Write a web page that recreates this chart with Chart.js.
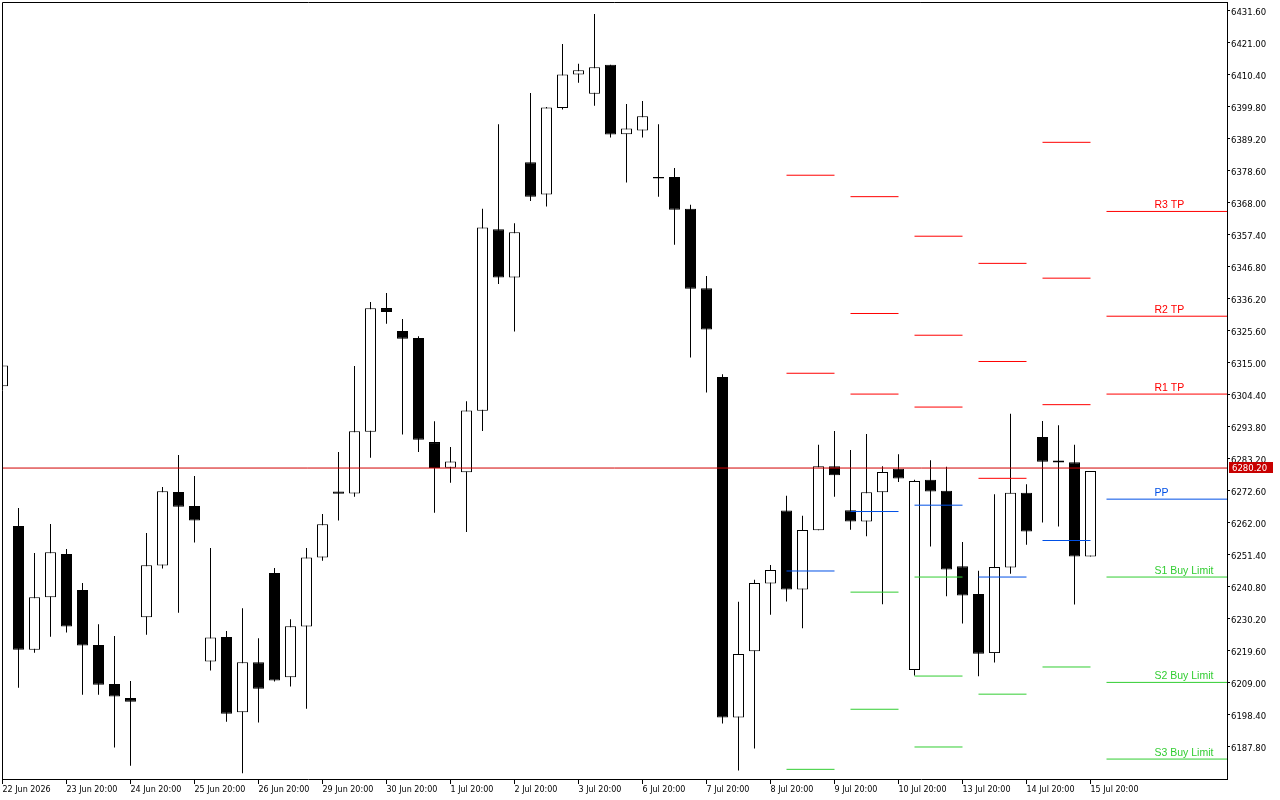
<!DOCTYPE html>
<html>
<head>
<meta charset="utf-8">
<title>US500 H6</title>
<script src="https://cdn.jsdelivr.net/npm/chart.js@4.4.1/dist/chart.umd.min.js"></script>
<style>
  html, body { margin: 0; padding: 0; background: #fff; }
  canvas { display: block; }
</style>
</head>
<body>
<canvas id="chart" width="1280" height="800"></canvas>
<script>
// candles, oldest first (one every 6 hours)
const opens  = [6307.3, 6261.0, 6220.0, 6237.4, 6251.7, 6239.8, 6221.6, 6208.7, 6204.0, 6230.8,
                6247.9, 6272.3, 6267.6, 6216.1, 6224.2, 6199.3, 6215.9, 6245.4, 6210.9, 6227.7,
                6250.6, 6272.4, 6271.8, 6292.2, 6333.2, 6325.6, 6323.3, 6288.8, 6280.3, 6278.8,
                6299.2, 6359.3, 6343.3, 6381.5, 6370.8, 6399.5, 6410.6, 6404.2, 6413.8, 6390.8,
                6392.0, 6376.6, 6376.6, 6366.1, 6339.8, 6310.4, 6197.6, 6219.5, 6242.0, 6266.1,
                6240.0, 6259.6, 6280.8, 6266.2, 6262.5, 6272.2, 6280.0, 6213.3, 6276.3, 6272.7,
                6247.7, 6238.5, 6218.9, 6247.3, 6272.0, 6290.5, 6282.7, 6282.1, 6250.9];
const highs  = [6314.2, 6267.0, 6252.1, 6261.7, 6253.4, 6242.1, 6228.5, 6224.6, 6209.7, 6258.7,
                6273.9, 6284.5, 6277.6, 6253.7, 6226.2, 6233.8, 6223.8, 6247.1, 6230.1, 6253.7,
                6265.0, 6285.5, 6314.0, 6335.2, 6338.2, 6329.6, 6323.9, 6295.7, 6287.2, 6302.3,
                6366.1, 6394.1, 6361.3, 6404.4, 6399.8, 6420.7, 6414.1, 6430.6, 6413.8, 6400.8,
                6401.8, 6394.1, 6379.6, 6367.4, 6343.8, 6311.3, 6235.9, 6243.2, 6248.1, 6271.0,
                6264.4, 6287.9, 6292.5, 6286.2, 6291.5, 6280.8, 6284.8, 6276.3, 6282.8, 6280.6,
                6255.7, 6246.2, 6271.5, 6298.2, 6274.8, 6295.8, 6294.4, 6287.9, 6279.2];
const lows   = [6307.3, 6207.4, 6219.0, 6224.3, 6225.7, 6205.1, 6205.1, 6187.6, 6181.6, 6225.0,
                6246.9, 6232.3, 6255.5, 6213.1, 6196.2, 6179.1, 6195.9, 6209.5, 6207.8, 6200.5,
                6249.5, 6262.8, 6270.7, 6283.6, 6328.0, 6291.3, 6285.5, 6265.4, 6275.3, 6259.0,
                6292.5, 6341.2, 6325.4, 6368.7, 6366.8, 6399.0, 6407.8, 6400.2, 6389.7, 6374.8,
                6389.7, 6370.1, 6354.2, 6316.8, 6305.2, 6195.6, 6180.0, 6187.3, 6231.6, 6236.0,
                6227.1, 6259.6, 6270.7, 6259.8, 6257.6, 6235.1, 6275.6, 6211.5, 6254.2, 6237.7,
                6228.7, 6211.2, 6215.8, 6245.2, 6254.8, 6262.2, 6260.8, 6235.0, 6250.9];
const closes = [6314.2, 6220.0, 6237.4, 6252.3, 6227.7, 6221.4, 6208.4, 6204.5, 6202.8, 6248.0,
                6272.5, 6267.4, 6262.8, 6224.1, 6198.8, 6215.9, 6207.1, 6209.8, 6227.8, 6250.6,
                6261.6, 6271.7, 6292.4, 6333.1, 6331.9, 6323.0, 6289.6, 6280.2, 6282.4, 6299.3,
                6359.9, 6343.3, 6358.3, 6370.1, 6399.6, 6410.6, 6412.0, 6413.0, 6390.7, 6392.7,
                6396.7, 6376.1, 6365.8, 6339.6, 6326.1, 6197.6, 6218.6, 6242.1, 6246.4, 6240.0,
                6259.7, 6280.8, 6277.8, 6262.5, 6272.2, 6278.9, 6276.7, 6275.9, 6272.4, 6246.6,
                6238.0, 6218.7, 6247.4, 6272.0, 6259.2, 6282.3, 6282.0, 6250.9, 6279.2];

// one label every 4 candles
const xLabels = ['22 Jun 2026', '23 Jun 20:00', '24 Jun 20:00', '25 Jun 20:00', '26 Jun 20:00',
                 '29 Jun 20:00', '30 Jun 20:00', '1 Jul 20:00', '2 Jul 20:00', '3 Jul 20:00',
                 '6 Jul 20:00', '7 Jul 20:00', '8 Jul 20:00', '9 Jul 20:00', '10 Jul 20:00',
                 '13 Jul 20:00', '14 Jul 20:00', '15 Jul 20:00'];
const yTicks = [6187.8, 6198.4, 6209.0, 6219.6, 6230.2, 6240.8, 6251.4, 6262.0, 6272.6, 6283.2,
                6293.8, 6304.4, 6315.0, 6325.6, 6336.2, 6346.8, 6357.4, 6368.0, 6378.6, 6389.2,
                6399.8, 6410.4, 6421.0, 6431.6];

// daily pivot levels, one value per day (null = off the chart)
const segStart = [49, 53, 57, 61, 65, 69];
const segEnd   = [52, 56, 60, 64, 68, 77];
const r3 = [null,   6370.1, 6357.0, 6348.0, 6388.1, 6365.2];
const r2 = [6377.2, 6331.4, 6324.2, 6315.5, 6343.1, 6330.5];
const r1 = [6311.6, 6304.7, 6300.4, 6276.8, 6301.2, 6304.7];
const pp = [6246.1, 6265.8, 6267.9, 6244.1, 6256.2, 6269.9];
const s1 = [6180.4, 6239.1, 6244.1, 6205.3, 6214.3, 6244.1];
const s2 = [null,   6200.3, 6211.3, null,   null,   6209.2];
const s3 = [null,   null,   6187.8, null,   null,   6183.8];

const lastPrice = 6280.2;

const RED = '#ff0000', BLUE = '#0050e6', GREEN = '#32cd32';
const levels = [
  { label: 'R3 TP', values: r3, color: RED },
  { label: 'R2 TP', values: r2, color: RED },
  { label: 'R1 TP', values: r1, color: RED },
  { label: 'PP', values: pp, color: BLUE },
  { label: 'S1 Buy Limit', values: s1, color: GREEN },
  { label: 'S2 Buy Limit', values: s2, color: GREEN },
  { label: 'S3 Buy Limit', values: s3, color: GREEN }
];
const labelAt = 72; // candle slot where the level captions start

function segments(values) {
  const pts = [];
  values.forEach((v, d) => {
    if (v == null) return;
    pts.push({ x: segStart[d], y: v }, { x: segEnd[d], y: v }, { x: segEnd[d] + 0.01, y: null });
  });
  return pts;
}

const datasets = [];

levels.forEach(l => {
  datasets.push({
    type: 'line',
    data: segments(l.values),
    borderColor: l.color,
    borderWidth: 1,
    pointRadius: 0,
    spanGaps: false,
    clip: 0,
    order: 0
  });
});

datasets.push({
  type: 'line',
  data: [{ x: -1, y: lastPrice }, { x: 80, y: lastPrice }],
  borderColor: '#d20000',
  borderWidth: 1,
  pointRadius: 0,
  clip: 0,
  order: 0
});

datasets.push({
  type: 'bar',
  data: opens.map((o, i) => ({ x: i, y: [o, closes[i]] })),
  backgroundColor: opens.map((o, i) => closes[i] >= o ? '#ffffff' : '#000000'),
  borderColor: '#000',
  borderWidth: 1,
  borderSkipped: false,
  barThickness: 11,
  inflateAmount: 0,
  grouped: false,
  clip: 0,
  order: 1
});

datasets.push({
  type: 'bar',
  data: lows.map((l, i) => ({ x: i, y: [l, highs[i]] })),
  backgroundColor: '#000',
  borderWidth: 0,
  barThickness: 1,
  inflateAmount: 0,
  grouped: false,
  clip: 0,
  order: 2
});

const overlay = {
  id: 'overlay',
  afterDraw(chart) {
    const { ctx, chartArea: a, scales: { x, y } } = chart;
    ctx.save();
    // frame: left and top edges
    ctx.strokeStyle = '#000';
    ctx.lineWidth = 1;
    ctx.beginPath();
    ctx.moveTo(a.left + 0.5, a.bottom);
    ctx.lineTo(a.left + 0.5, a.top + 0.5);
    ctx.lineTo(a.right, a.top + 0.5);
    ctx.stroke();

    // captions of today's levels
    ctx.font = '10.5px "Liberation Sans"';
    ctx.textAlign = 'left';
    ctx.textBaseline = 'alphabetic';
    const lx = x.getPixelForValue(labelAt);
    levels.forEach(l => {
      const v = l.values[l.values.length - 1];
      if (v == null) return;
      ctx.fillStyle = l.color;
      ctx.fillText(l.label, lx, Math.round(y.getPixelForValue(v)) - 3);
    });

    // current price tag
    const py = Math.round(y.getPixelForValue(lastPrice));
    ctx.fillStyle = '#c80000';
    ctx.fillRect(a.right + 2, py - 6, 44, 11);
    ctx.fillStyle = '#fff';
    ctx.font = '8.5px "DejaVu Sans"';
    ctx.textBaseline = 'middle';
    ctx.fillText(lastPrice.toFixed(2), a.right + 5, py + 1);
    ctx.restore();
  }
};

new Chart(document.getElementById('chart'), {
  type: 'bar',
  data: { datasets },
  plugins: [overlay],
  options: {
    responsive: false,
    animation: false,
    layout: { padding: { left: 2, top: 2, right: 0, bottom: 0 } },
    plugins: { legend: { display: false }, tooltip: { enabled: false } },
    scales: {
      x: {
        type: 'linear',
        min: -0.03125,
        max: 76.53125,
        offset: false,
        afterFit: s => { s.height = 21; s.paddingLeft = 0; s.paddingRight = 0; },
        afterBuildTicks: s => { s.ticks = xLabels.map((_, i) => ({ value: i * 4 })); },
        grid: { display: true, drawOnChartArea: false, drawTicks: true, tickLength: 5, color: '#000', offset: false },
        border: { display: true, color: '#000', width: 1 },
        ticks: {
          autoSkip: false,
          maxRotation: 0,
          align: 'start',
          padding: 1,
          color: '#000',
          font: { family: 'DejaVu Sans', size: 8 },
          callback: (v, i) => xLabels[i]
        }
      },
      y: {
        type: 'linear',
        position: 'right',
        min: 6177.2,
        max: 6434.58,
        afterFit: s => { s.width = 53; s.paddingTop = 0; s.paddingBottom = 0; },
        afterBuildTicks: s => { s.ticks = yTicks.map(v => ({ value: v })); },
        grid: { display: true, drawOnChartArea: false, drawTicks: true, tickLength: 3, color: '#000' },
        border: { display: true, color: '#000', width: 1 },
        ticks: {
          autoSkip: false,
          padding: 1,
          labelOffset: 2,
          color: '#000',
          font: { family: 'DejaVu Sans', size: 8.5 },
          callback: v => v.toFixed(2)
        }
      }
    }
  }
});
</script>
</body>
</html>
